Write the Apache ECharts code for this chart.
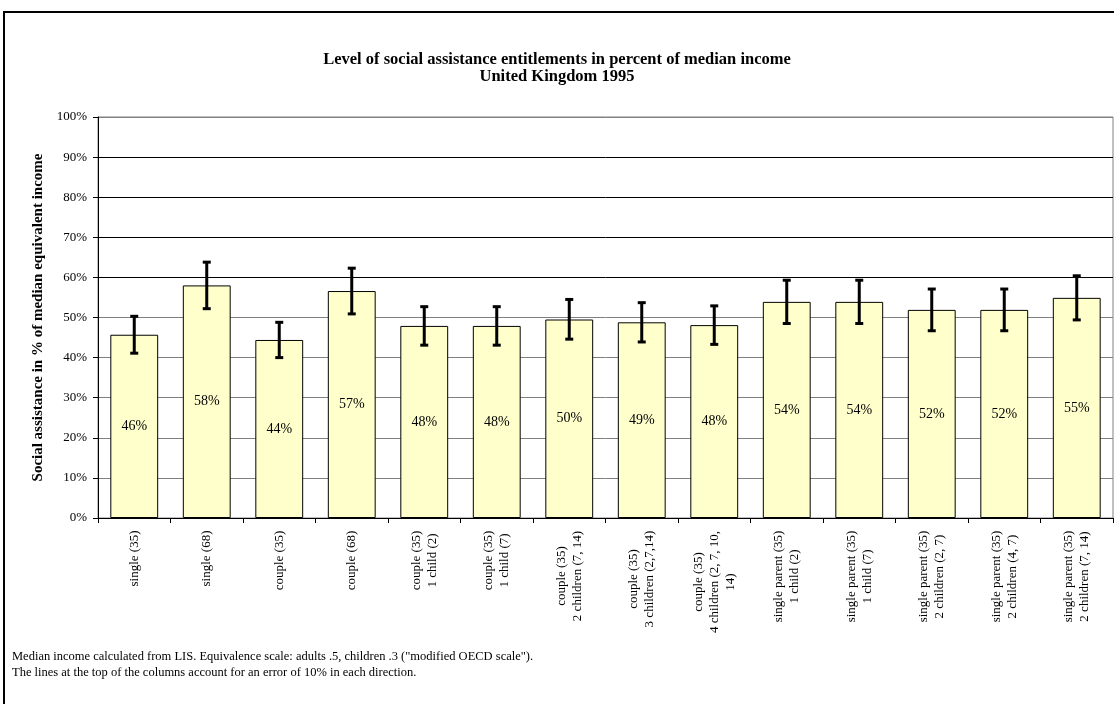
<!DOCTYPE html>
<html>
<head>
<meta charset="utf-8">
<script src="https://cdn.jsdelivr.net/npm/echarts@6/dist/echarts.min.js"></script>
<style>
html,body{margin:0;padding:0;background:#fff;}
#chart{width:1114px;height:704px;}
</style>
</head>
<body>
<div id="chart"></div>
<script>
// ---- data ----
const categories = [
  "single (35)",
  "single (68)",
  "couple (35)",
  "couple (68)",
  "couple (35)\n1 child (2)",
  "couple (35)\n1 child (7)",
  "couple (35)\n2 children (7, 14)",
  "couple (35)\n3 children (2,7,14)",
  "couple (35)\n4 children (2, 7, 10,\n14)",
  "single parent (35)\n1 child (2)",
  "single parent (35)\n1 child (7)",
  "single parent (35)\n2 children (2, 7)",
  "single parent (35)\n2 children (4, 7)",
  "single parent (35)\n2 children (7, 14)"
];
const values   = [45.7, 58.0, 44.4, 56.6, 47.9, 47.9, 49.5, 48.8, 48.1, 53.9, 53.9, 51.9, 51.9, 54.9];
const errHigh  = [50.3, 63.8, 48.8, 62.3, 52.7, 52.7, 54.5, 53.7, 52.9, 59.3, 59.3, 57.1, 57.1, 60.4];
const errLow   = [41.1, 52.2, 40.0, 50.9, 43.1, 43.1, 44.6, 43.9, 43.3, 48.5, 48.5, 46.7, 46.7, 49.4];
const yTicks = { min: 0, max: 100, interval: 10 };
const titleLines = ["Level of social assistance entitlements in percent of median income", "United Kingdom 1995"];
const yAxisTitle = "Social assistance in % of median equivalent income";
const footnotes = [
  'Median income calculated from LIS. Equivalence scale: adults .5, children .3 ("modified OECD scale").',
  "The lines at the top of the columns account for an error of 10% in each direction."
];

// ---- rendering ----
const FONT = '"Liberation Serif", "Times New Roman", serif';
const LABEL_SIZE = 13;
const cv = document.createElement('canvas').getContext('2d');
cv.font = LABEL_SIZE + 'px "Liberation Serif"';
const rich = {};
categories.forEach((c, i) => {
  const w = Math.max(...c.split('\n').map(s => cv.measureText(s).width));
  rich['c' + i] = { width: Math.ceil(w) + 1, align: 'center', fontFamily: FONT, fontSize: LABEL_SIZE, lineHeight: 16, color: '#000' };
});

const gridColors = [];
for (let v = yTicks.min; v <= yTicks.max; v += yTicks.interval) {
  gridColors.push((v >= 60 && v <= 90) ? '#000000' : '#808080');
}

const chart = echarts.init(document.getElementById('chart'), null, { renderer: 'canvas' });
chart.setOption({
  animation: false,
  backgroundColor: '#fff',
  title: {
    text: titleLines.join('\n'),
    left: 'center',
    top: 46,
    textStyle: { fontFamily: FONT, fontSize: 16.5, fontWeight: 'bold', color: '#000', lineHeight: 17 }
  },
  grid: { left: 98, right: 1, top: 117, bottom: 186, show: true, borderColor: '#808080', borderWidth: 1, containLabel: false },
  xAxis: {
    type: 'category',
    data: categories,
    axisLine: { lineStyle: { color: '#000', width: 1 } },
    axisTick: { show: true, length: 5, lineStyle: { color: '#000' } },
    axisLabel: {
      interval: 0,
      rotate: 90,
      margin: 12,
      fontFamily: FONT,
      fontSize: LABEL_SIZE,
      color: '#000',
      formatter: function (val, idx) {
        return val.split('\n').map(s => '{c' + idx + '|' + s + '}').join('\n');
      },
      rich: rich
    }
  },
  yAxis: {
    type: 'value',
    min: yTicks.min, max: yTicks.max, interval: yTicks.interval,
    name: yAxisTitle,
    nameLocation: 'middle',
    nameGap: 48,
    nameRotate: 90,
    nameTextStyle: { fontFamily: FONT, fontSize: 15, fontWeight: 'bold', color: '#000' },
    axisLine: { show: true, lineStyle: { color: '#000', width: 1 } },
    axisTick: { show: true, length: 5, lineStyle: { color: '#000' } },
    axisLabel: { formatter: '{value}%', fontFamily: FONT, fontSize: 13, color: '#000', margin: 11 },
    splitLine: { show: true, lineStyle: { color: gridColors, width: 1 } }
  },
  graphic: [
    { type: 'rect', z: -1, shape: { x: 4, y: 12, width: 1300, height: 900 }, style: { fill: 'none', stroke: '#000', lineWidth: 2 } },
    { type: 'text', left: 12, top: 649, style: { text: footnotes.join('\n'), font: '12.5px ' + FONT, fill: '#000', lineHeight: 16 } }
  ],
  series: [
    {
      type: 'bar',
      data: values,
      barCategoryGap: '34%',
      itemStyle: { color: '#FFFFCC', borderColor: '#000', borderWidth: 1 },
      label: {
        show: true,
        position: 'inside',
        formatter: p => Math.round(p.value) + '%',
        fontFamily: FONT, fontSize: 14, color: '#000'
      },
      z: 2
    },
    {
      type: 'custom',
      data: values.map((v, i) => [i, errLow[i], errHigh[i]]),
      encode: { x: 0, y: [1, 2] },
      z: 5,
      renderItem: function (params, api) {
        const i = api.value(0);
        const lo = api.coord([i, api.value(1)]);
        const hi = api.coord([i, api.value(2)]);
        const half = 4;
        const st = { stroke: '#000', lineWidth: 3 };
        return {
          type: 'group',
          children: [
            { type: 'line', shape: { x1: hi[0], y1: hi[1], x2: lo[0], y2: lo[1] }, style: st },
            { type: 'line', shape: { x1: hi[0] - half, y1: hi[1], x2: hi[0] + half, y2: hi[1] }, style: st },
            { type: 'line', shape: { x1: lo[0] - half, y1: lo[1], x2: lo[0] + half, y2: lo[1] }, style: st }
          ]
        };
      }
    }
  ]
});
</script>
</body>
</html>
